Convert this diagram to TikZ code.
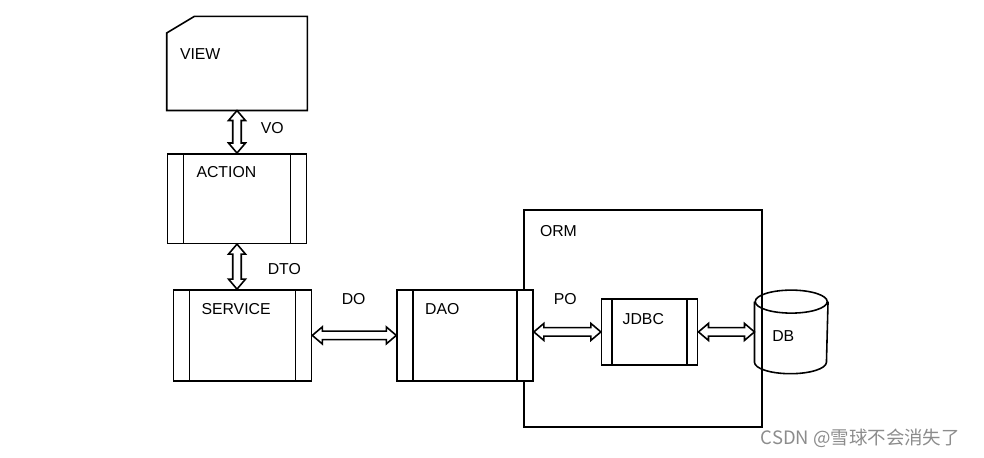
\documentclass[tikz,border=0pt]{standalone}
\usepackage{fontspec}
\setmainfont{Liberation Sans}
\newfontfamily\cjk{Noto Sans CJK SC}
\usetikzlibrary{positioning,calc}

\begin{document}
\begin{tikzpicture}[
    line width=0.9pt,
    tag/.style={font=\fontsize{9}{11}\selectfont, inner sep=0pt},
    every label/.style={tag},
    blank/.style={rectangle, minimum width=2.78cm, minimum height=1.85cm, inner sep=0pt},
    proc/.style={rectangle, draw, fill=white, inner sep=0pt,
        path picture={\draw ([xshift=#1]path picture bounding box.north west) -- ([xshift=#1]path picture bounding box.south west)
            ([xshift=-#1]path picture bounding box.north east) -- ([xshift=-#1]path picture bounding box.south east);}},
    proc/.default=0.32cm,
    ormbox/.style={rectangle, draw, minimum width=4.76cm, minimum height=4.34cm, inner sep=0pt},
    hollow/.style={line width=0.7pt, to path={
        -- ($(\tikztostart)!0.2cm!(\tikztotarget)!0.17cm!90:(\tikztotarget)$)
        -- ($(\tikztostart)!0.2cm!(\tikztotarget)!0.085cm!90:(\tikztotarget)$)
        -- ($(\tikztotarget)!0.2cm!(\tikztostart)!0.085cm!-90:(\tikztostart)$)
        -- ($(\tikztotarget)!0.2cm!(\tikztostart)!0.17cm!-90:(\tikztostart)$)
        -- (\tikztotarget)
        -- ($(\tikztotarget)!0.2cm!(\tikztostart)!0.17cm!90:(\tikztostart)$)
        -- ($(\tikztotarget)!0.2cm!(\tikztostart)!0.085cm!90:(\tikztostart)$)
        -- ($(\tikztostart)!0.2cm!(\tikztotarget)!0.085cm!-90:(\tikztotarget)$)
        -- ($(\tikztostart)!0.2cm!(\tikztotarget)!0.17cm!-90:(\tikztotarget)$)
        -- cycle}}
]
\useasboundingbox (0,0) rectangle (19.68,-9.16);

% orm frame first, dao is drawn over its edge
\node (orm) [ormbox, label={[anchor=west, xshift=0.32cm, yshift=-0.44cm]north west:ORM}] at (12.86,-6.37) {};

% left column
\node (view) [blank, label={[anchor=west, xshift=0.25cm, yshift=-0.75cm]north west:VIEW}] at (4.74,-1.27) {};
\draw (view.north east) -- (view.south east) -- (view.south west) -- ([yshift=-0.33cm]view.north west) -- ([xshift=0.55cm]view.north west) -- cycle;
\node (action) [proc, minimum width=2.78cm, minimum height=1.79cm, below=0.85cm of view,
    label={[anchor=west, xshift=0.58cm, yshift=-0.39cm]north west:ACTION}] {};
\node (service) [proc, minimum width=2.76cm, minimum height=1.82cm, below=0.9cm of action, xshift=0.11cm,
    label={[anchor=west, xshift=0.56cm, yshift=-0.4cm]north west:SERVICE}] {};

% bottom row
\node (dao) [proc, minimum width=2.72cm, minimum height=1.82cm, right=1.68cm of service,
    label={[anchor=west, xshift=0.56cm, yshift=-0.4cm]north west:DAO}] {};
\node (jdbc) [proc=0.21cm, minimum width=1.92cm, minimum height=1.32cm, right=1.34cm of dao, yshift=0.07cm,
    label={[anchor=west, xshift=0.42cm, yshift=-0.41cm]north west:JDBC}] {};
\node (db) [blank, minimum width=1.44cm, minimum height=1.64cm, right=1.12cm of jdbc,
    label={[anchor=west, xshift=0.34cm, yshift=-0.08cm]west:DB}] {};
% cylinder outline of db
\draw ([yshift=-0.23cm]db.north) ellipse [x radius=0.72cm, y radius=0.23cm];
\draw ([yshift=-0.23cm]db.north west) -- ([yshift=0.23cm]db.south west)
    arc [start angle=180, end angle=360, x radius=0.72cm, y radius=0.23cm] -- ([yshift=-0.23cm]db.north east);

\draw (view.south) to[hollow] (action.north);
\draw (action.south) to[hollow] (action.south |- service.north);
\draw (service.east) to[hollow] (dao.west);
\draw (dao.east |- jdbc.west) to[hollow] (jdbc.west);
\draw (jdbc.east) to[hollow] (jdbc.east -| db.west);

\node (vo) [tag, anchor=west] at (5.2,-2.56) {VO};
\node (dto) [tag, anchor=west] at (5.34,-5.38) {DTO};
\node (do) [tag, anchor=west] at (6.82,-5.98) {DO};
\node (po) [tag, anchor=west] at (11.06,-5.98) {PO};

\node (mark) [anchor=west, inner sep=0pt, text=black!45, font=\cjk\fontsize{10.5}{12}\selectfont] at (15.2,-8.76) {CSDN @雪球不会消失了};
\end{tikzpicture}
\end{document}
